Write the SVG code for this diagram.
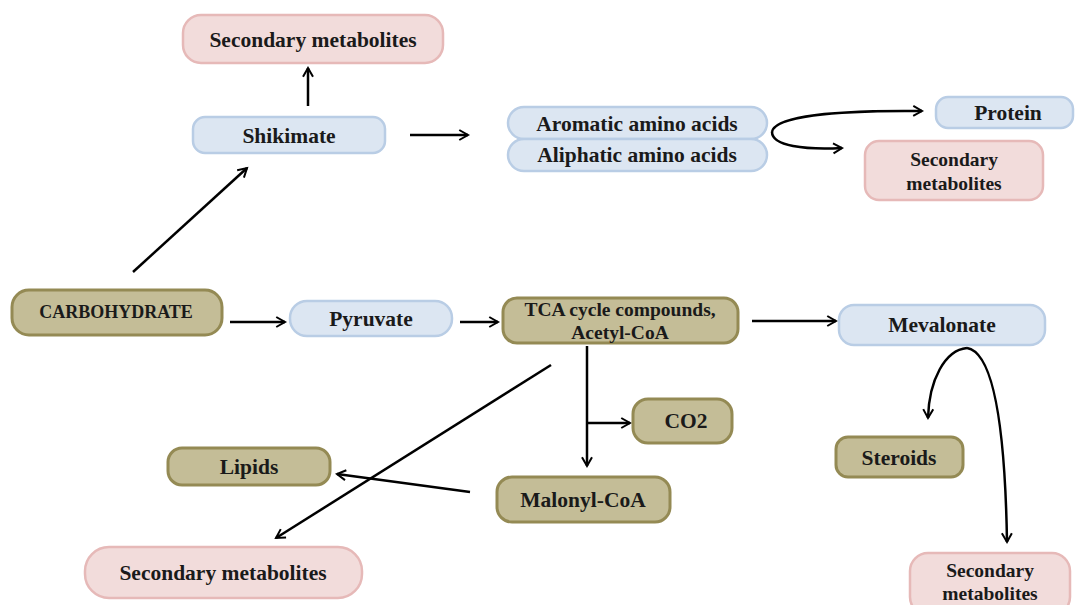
<svg xmlns="http://www.w3.org/2000/svg" width="1076" height="605" viewBox="0 0 1076 605">
<defs>
<style>
text{font-family:"Liberation Serif","Times New Roman",serif;font-weight:bold;font-size:21.5px;fill:#1a1a1a;text-anchor:middle}
.sm{font-size:19.5px}
.pink{fill:#f2dcdb;stroke:#e6b9b8;stroke-width:2.5}
.blue{fill:#dce6f2;stroke:#b9cde5;stroke-width:2.5}
.olive{fill:#c4bd97;stroke:#948a54;stroke-width:3}
.c{fill:none;stroke:#000;stroke-width:2.5;marker-end:url(#ah)}
</style>
<marker id="ah" viewBox="0 0 10 10" refX="8" refY="5" markerWidth="5" markerHeight="5" orient="auto" markerUnits="strokeWidth">
<path d="M1,1 L8,5 L1,9" fill="none" stroke="#000" stroke-width="1.6"/>
</marker>
</defs>
<rect width="1076" height="605" fill="#fff"/>
<g id="connectors">
<path class="c" d="M308,106 L308,68"/>
<path class="c" d="M410,135 L468,135"/>
<path class="c" d="M133,272 L247,168"/>
<path class="c" d="M772,132 C774,117 830,110 922,111"/>
<path class="c" d="M772,132 C772,146 805,150 842,148"/>
<path class="c" d="M230,322 L285,322"/>
<path class="c" d="M460,322 L498,322"/>
<path class="c" d="M752,321 L836,321"/>
<path class="c" d="M587,346 L587,466"/>
<path class="c" d="M587,423 L630,423"/>
<path class="c" d="M551,365 L276,538"/>
<path class="c" d="M470,492 L337,474"/>
<path class="c" d="M967,348 C945,350 929,380 928,418"/>
<path class="c" d="M967,348 C992,352 1005,420 1007,542"/>
</g>
<g id="sec-top"><rect class="pink" x="183" y="15" width="260" height="48" rx="18"/><text x="313" y="47">Secondary metabolites</text></g>
<g id="shikimate"><rect class="blue" x="193" y="117" width="192" height="36" rx="12"/><text x="289" y="143">Shikimate</text></g>
<g id="aromatic"><rect class="blue" x="508" y="107" width="259" height="32" rx="16"/><text x="637" y="131">Aromatic amino acids</text></g>
<g id="aliphatic"><rect class="blue" x="508" y="139" width="259" height="32" rx="16"/><text x="637" y="162">Aliphatic amino acids</text></g>
<g id="protein"><rect class="blue" x="936" y="97" width="137" height="31" rx="12"/><text x="1008" y="120">Protein</text></g>
<g id="sec-right"><rect class="pink" x="865" y="141" width="178" height="59" rx="14"/><text class="sm" x="954" y="166">Secondary</text><text class="sm" x="954" y="190">metabolites</text></g>
<g id="carbohydrate"><rect class="olive" x="12" y="290" width="210" height="45" rx="17"/><text x="116" y="318" style="font-size:18px">CARBOHYDRATE</text></g>
<g id="pyruvate"><rect class="blue" x="290" y="301" width="162" height="35" rx="17"/><text x="371" y="326">Pyruvate</text></g>
<g id="tca"><rect class="olive" x="503" y="298" width="235" height="45" rx="14"/><text class="sm" x="620" y="316">TCA cycle compounds,</text><text class="sm" x="620" y="339">Acetyl-CoA</text></g>
<g id="mevalonate"><rect class="blue" x="839" y="305" width="206" height="40" rx="15"/><text x="942" y="332">Mevalonate</text></g>
<g id="co2"><rect class="olive" x="633" y="399" width="99" height="44" rx="15"/><text x="686" y="428">CO2</text></g>
<g id="lipids"><rect class="olive" x="168" y="448" width="162" height="37" rx="14"/><text x="249" y="474">Lipids</text></g>
<g id="malonyl"><rect class="olive" x="497" y="477" width="173" height="45" rx="15"/><text x="583" y="507">Malonyl-CoA</text></g>
<g id="sec-bottom-left"><rect class="pink" x="85" y="547" width="277" height="51" rx="24"/><text x="223" y="580">Secondary metabolites</text></g>
<g id="steroids"><rect class="olive" x="836" y="437" width="127" height="40" rx="12"/><text x="899" y="465">Steroids</text></g>
<g id="sec-bottom-right"><rect class="pink" x="910" y="553" width="160" height="62" rx="18"/><text class="sm" x="990" y="577">Secondary</text><text class="sm" x="990" y="600">metabolites</text></g>
</svg>
